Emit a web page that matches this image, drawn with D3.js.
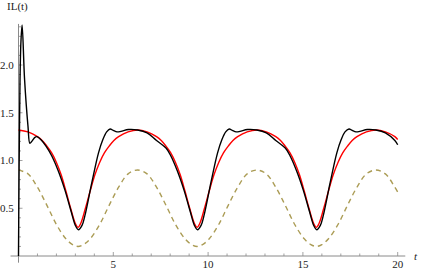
<!DOCTYPE html>
<html><head><meta charset="utf-8">
<script src="https://cdn.jsdelivr.net/npm/d3@7"></script>
<style>html,body{margin:0;padding:0;background:#fff;}svg{display:block;}</style>
</head><body>
<svg id="chart" width="421" height="273"></svg>
<script>
// ---- data ----
const xTickLabels = [5, 10, 15, 20];
const yTickLabels = ["0.5", "1.0", "1.5", "2.0"];
const yLabel = "IL(t)";
const xLabel = "t";

const blackT = [0,0.02,0.05,0.08,0.13,0.19,0.32,0.5,0.6,0.7,0.85,0.97,1.2,1.45,1.75,2.1,2.45,2.8,3.0,3.16,3.35,3.5,3.87,4.22,4.45,4.65,4.83,5.0,5.2,5.4,5.8,6.28,
  6.78,7.28,7.78,8.03,8.38,8.73,9.08,9.28,9.44,9.63,9.78,10.15,10.5,10.73,10.93,11.11,11.28,11.48,11.68,12.08,12.57,
  13.07,13.57,14.07,14.32,14.67,15.02,15.37,15.57,15.73,15.92,16.07,16.44,16.79,17.02,17.22,17.43,17.6,17.8,18.0,18.4,18.85,
  19.35,19.85,20];
const blackV = [0,0.6,1.3,1.85,2.25,2.42,1.85,1.36,1.18,1.2,1.24,1.25,1.215,1.15,1.05,0.89,0.69,0.45,0.32,0.275,0.32,0.42,0.77,1.08,1.22,1.30,1.33,1.315,1.30,1.305,1.325,1.32,
  1.29,1.21,1.13,1.05,0.89,0.69,0.45,0.32,0.275,0.32,0.42,0.77,1.08,1.22,1.30,1.33,1.315,1.30,1.305,1.325,1.32,
  1.29,1.21,1.13,1.05,0.89,0.69,0.45,0.32,0.275,0.32,0.42,0.77,1.08,1.22,1.30,1.33,1.315,1.30,1.305,1.325,1.32,
  1.29,1.21,1.165];

const redT = [0,0.5,1.0,1.25,1.5,1.75,2.0,2.25,2.5,2.75,3.0,3.14,3.28,3.53,3.78,4.03,4.28,4.53,4.78,5.03,5.28,5.78,6.28,
  6.78,7.28,7.53,7.78,8.03,8.28,8.53,8.78,9.03,9.28,9.42,9.56,9.81,10.06,10.31,10.56,10.81,11.06,11.31,11.56,12.06,12.57,
  13.07,13.57,13.82,14.07,14.32,14.57,14.82,15.07,15.32,15.57,15.71,15.85,16.1,16.35,16.6,16.85,17.1,17.35,17.6,17.85,18.35,18.85,
  19.35,19.85,20];
const redV = [1.32,1.30,1.25,1.21,1.15,1.08,0.98,0.85,0.68,0.50,0.34,0.30,0.34,0.50,0.68,0.85,0.98,1.08,1.15,1.21,1.25,1.30,1.32,
  1.30,1.25,1.21,1.15,1.08,0.98,0.85,0.68,0.50,0.34,0.30,0.34,0.50,0.68,0.85,0.98,1.08,1.15,1.21,1.25,1.30,1.32,
  1.30,1.25,1.21,1.15,1.08,0.98,0.85,0.68,0.50,0.34,0.30,0.34,0.50,0.68,0.85,0.98,1.08,1.15,1.21,1.25,1.30,1.32,
  1.30,1.25,1.22];

const dashT = [0,0.5,1.0,1.5,2.0,2.5,2.85,3.14,3.43,3.78,4.28,4.78,5.28,5.78,
  6.28,6.78,7.28,7.78,8.28,8.78,9.13,9.42,9.71,10.06,10.56,11.06,11.56,12.06,
  12.57,13.07,13.57,14.07,14.57,15.07,15.42,15.71,16.0,16.35,16.85,17.35,17.85,18.35,
  18.85,19.35,19.85,20];
const dashV = [0.90,0.86,0.72,0.53,0.33,0.18,0.12,0.10,0.12,0.18,0.33,0.53,0.72,0.86,
  0.90,0.86,0.72,0.53,0.33,0.18,0.12,0.10,0.12,0.18,0.33,0.53,0.72,0.86,
  0.90,0.86,0.72,0.53,0.33,0.18,0.12,0.10,0.12,0.18,0.33,0.53,0.72,0.86,
  0.90,0.86,0.72,0.67];

// ---- drawing ----
const svg = d3.select("#chart");
const x = d3.scaleLinear().domain([0, 20]).range([18.5, 397.7]);
const y = d3.scaleLinear().domain([0, 1]).range([256, 160.5]);
const axisColor = "#8a8a8a";
const font = "'Liberation Serif', 'Times New Roman', Times, serif";

// axes lines
svg.append("line").attr("x1", x(-0.42)).attr("x2", x(20.4)).attr("y1", y(0)).attr("y2", y(0))
  .attr("stroke", axisColor).attr("stroke-width", 1);
svg.append("line").attr("x1", x(0)).attr("x2", x(0)).attr("y1", y(-0.07)).attr("y2", y(2.43))
  .attr("stroke", axisColor).attr("stroke-width", 1);

// x ticks
const xMinor = d3.range(1, 21);
svg.append("g").selectAll("line").data(xMinor).join("line")
  .attr("x1", d => x(d)).attr("x2", d => x(d))
  .attr("y1", y(0)).attr("y2", d => y(0) - (d % 5 === 0 ? 4 : 2.5))
  .attr("stroke", axisColor).attr("stroke-width", 0.8);
svg.append("g").selectAll("text").data(xTickLabels).join("text")
  .attr("x", d => x(d)).attr("y", 268).attr("text-anchor", "middle")
  .style("font-family", font).style("font-size", "11px").attr("fill", "#222").text(d => d);

// y ticks
const yMinor = d3.range(1, 25).map(i => i / 10);
svg.append("g").selectAll("line").data(yMinor).join("line")
  .attr("x1", x(0)).attr("x2", d => x(0) + (Math.abs(d * 2 - Math.round(d * 2)) < 1e-6 ? 4 : 2.5))
  .attr("y1", d => y(d)).attr("y2", d => y(d))
  .attr("stroke", axisColor).attr("stroke-width", 0.8);
svg.append("g").selectAll("text").data(yTickLabels).join("text")
  .attr("x", 13.8).attr("y", d => y(+d) + 3.8).attr("text-anchor", "end")
  .style("font-family", font).style("font-size", "11px").attr("fill", "#222").text(d => d);

svg.append("text").attr("x", 7).attr("y", 10).style("font-family", font).style("font-size", "11px")
  .attr("fill", "#222").text(yLabel);
svg.append("text").attr("x", 414).attr("y", 260).style("font-family", font).style("font-size", "11px")
  .style("font-style", "italic").attr("fill", "#222").text(xLabel);

// curves
const line = d3.line().x(d => x(d[0])).y(d => y(d[1])).curve(d3.curveCatmullRom.alpha(0.5));
const zip = (a, b) => a.map((t, i) => [t, b[i]]);

svg.append("path").datum(zip(dashT, dashV)).attr("d", line)
  .attr("fill", "none").attr("stroke", "#ab9c55").attr("stroke-width", 1.4)
  .attr("stroke-dasharray", "5,4");
svg.append("path").datum(zip(redT, redV)).attr("d", line)
  .attr("fill", "none").attr("stroke", "#ff0000").attr("stroke-width", 1.4);
svg.append("path").datum(zip(blackT, blackV)).attr("d", line)
  .attr("fill", "none").attr("stroke", "#000").attr("stroke-width", 1.4);
</script>
</body></html>
